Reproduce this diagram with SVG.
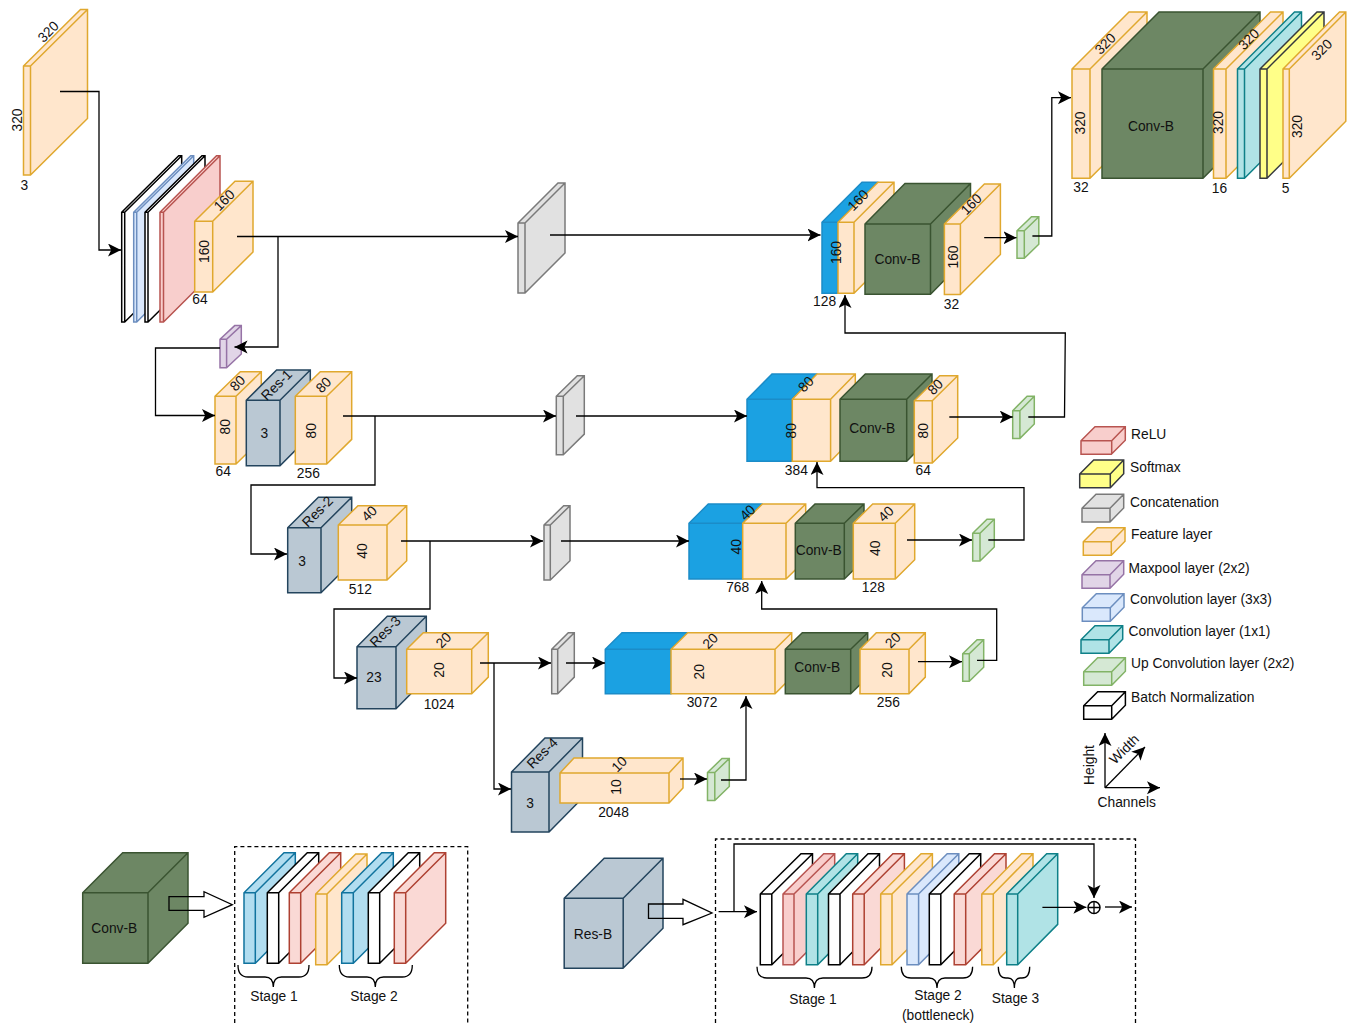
<svg xmlns="http://www.w3.org/2000/svg" width="1352" height="1023" viewBox="0 0 1352 1023">
<style>
text{font-family:"Liberation Sans",Arial,sans-serif;font-size:13.8px;fill:#111;text-anchor:middle;dominant-baseline:middle}
.l{text-anchor:start}
path{stroke-width:1.5;stroke-linejoin:miter}
.o{fill:#ffe6cc;stroke:#e0a82e}
.g{fill:#6d8764;stroke:#3a5431}
.r{fill:#bac8d3;stroke:#23445d}
.b{fill:#1ba1e2;stroke:#1b8cc8}
.red{fill:#f8cecc;stroke:#b85450}
.sal{fill:#fad9d5;stroke:#ae4132}
.c3{fill:#dae8fc;stroke:#6c8ebf}
.gr{fill:#e1e1e1;stroke:#7a7a7a}
.p{fill:#e1d5e7;stroke:#9673a6}
.ug{fill:#d5e8d4;stroke:#82b366}
.t{fill:#b0e3e6;stroke:#0e8088}
.y{fill:#ffff88;stroke:#36393d}
.w{fill:#fff;stroke:#000}
.sb{fill:#b1ddf0;stroke:#10739e}
.ln{fill:none;stroke:#000;stroke-width:1.3}
.ar{marker-end:url(#a)}
.da{fill:none;stroke:#000;stroke-width:1.3;stroke-dasharray:4 3}
</style>
<defs>
<marker id="a" markerUnits="userSpaceOnUse" markerWidth="14" markerHeight="14" refX="13" refY="6.5" orient="auto"><path d="M13 6.5L0 0L3.2 6.5L0 13Z" fill="#000" stroke="none"/></marker>
</defs>

<g id="input">
<path class="o" d="M23.5 66l57 -56.5h7v109l-57 56.5h-7zh7v109m0 -109l57 -56.5"/>
<text transform="rotate(-45 49 32.5)" x="49" y="32.5">320</text>
<text transform="rotate(-90 18.3 120)" x="18.3" y="120">320</text>
<text x="24.3" y="186.5">3</text>
</g>
<g id="stage0">
<path class="w" d="M121.7 212.3l57 -56.6h3v110l-57 56.3h-3zh3v110m0 -110l57 -56.6"/>
<path class="c3" d="M133.7 212.3l57 -56.6h3v110l-57 56.3h-3zh3v110m0 -110l57 -56.6"/>
<path class="w" d="M145 212.3l57 -56.6h3v110l-57 56.3h-3zh3v110m0 -110l57 -56.6"/>
<path class="red" d="M160 212.3l56.5 -56.6h3.5v110l-56.5 56.3h-3.5zh3.5v110m0 -110l56.5 -56.6"/>
<path class="o" d="M194.7 221.3l40.3 -40h18v70.7l-40.3 40h-18zh18v70.7m0 -70.7l40.3 -40"/>
<text transform="rotate(-45 225 201)" x="225" y="201">160</text>
<text transform="rotate(-90 205 251.5)" x="205" y="251.5">160</text>
<text x="200" y="300">64</text>
</g>
<g id="concat1">
<path class="gr" d="M518 223l40 -40h7v70l-40 40h-7zh7v70m0 -70l40 -40"/>
</g>
<g id="maxpool">
<path class="p" d="M220 339.3l14.7 -13.7h6.6v28.4l-14.7 13.7h-6.6zh6.6v28.4m0 -28.4l14.7 -13.7"/>
</g>
<g id="res1">
<path class="o" d="M215 396.3l25.3 -24.6h21v67.7l-25.3 24.6h-21zh21v67.7m0 -67.7l25.3 -24.6"/>
<text transform="rotate(-45 238.3 384)" x="238.3" y="384">80</text>
<text transform="rotate(-90 226.7 426.7)" x="226.7" y="426.7">80</text>
<path class="r" d="M246.3 400.3l30.3 -30.3h33.7v65.4l-30.3 30.3h-33.7zh33.7v65.4m0 -65.4l30.3 -30.3"/>
<text transform="rotate(-45 277.3 385.7)" x="277.3" y="385.7">Res-1</text>
<text x="264.3" y="434">3</text>
<path class="o" d="M295.3 396.3l25 -24.6h31.4v67.7l-25 24.6h-31.4zh31.4v67.7m0 -67.7l25 -24.6"/>
<text transform="rotate(-45 324.3 385.7)" x="324.3" y="385.7">80</text>
<text transform="rotate(-90 312.7 430.7)" x="312.7" y="430.7">80</text>
<text x="223.3" y="472.7">64</text>
<text x="308.3" y="474">256</text>
</g>
<g id="concat2">
<path class="gr" d="M556.3 396.3l21 -20.6h7v58.4l-21 20.6h-7zh7v58.4m0 -58.4l21 -20.6"/>
</g>
<g id="res2">
<path class="r" d="M287.7 527.7l30.7 -30.4h33.3v65l-30.7 30.4h-33.3zh33.3v65m0 -65l30.7 -30.4"/>
<text transform="rotate(-45 318.3 512.3)" x="318.3" y="512.3">Res-2</text>
<text x="302" y="562.3">3</text>
<path class="o" d="M338.3 525l19.7 -19.3h48.7v55l-19.7 19.3h-48.7zh48.7v55m0 -55l19.7 -19.3"/>
<text transform="rotate(-45 370 514.3)" x="370" y="514.3">40</text>
<text transform="rotate(-90 363.3 551)" x="363.3" y="551">40</text>
<text x="360.3" y="590">512</text>
</g>
<g id="concat3">
<path class="gr" d="M544 525l19.7 -19.3h6.3v55l-19.7 19.3h-6.3zh6.3v55m0 -55l19.7 -19.3"/>
</g>
<g id="res3">
<path class="r" d="M357 646.7l30.3 -30.4h39v62l-30.3 30.4h-39zh39v62m0 -62l30.3 -30.4"/>
<text transform="rotate(-45 386 632.3)" x="386" y="632.3">Res-3</text>
<text x="374" y="678.3">23</text>
<path class="o" d="M406.7 649.3l16.6 -16.6h65v44.4l-16.6 16.6h-65zh65v44.4m0 -44.4l16.6 -16.6"/>
<text transform="rotate(-45 444.3 641)" x="444.3" y="641">20</text>
<text transform="rotate(-90 440 670)" x="440" y="670">20</text>
<text x="439" y="705">1024</text>
</g>
<g id="concat4">
<path class="gr" d="M551.7 649.3l16.6 -16.6h6v44.4l-16.6 16.6h-6zh6v44.4m0 -44.4l16.6 -16.6"/>
</g>
<g id="res4">
<path class="r" d="M511.5 772l33.5 -34h37.5v60l-33.5 34h-37.5zh37.5v60m0 -60l33.5 -34"/>
<text transform="rotate(-45 543 754)" x="543" y="754">Res-4</text>
<text x="530" y="804">3</text>
<path class="o" d="M560 773l14 -15h109v30l-14 15h-109zh109v30m0 -30l14 -15"/>
<text transform="rotate(-45 620 765)" x="620" y="765">10</text>
<text transform="rotate(-90 617 787)" x="617" y="787">10</text>
<text x="613.5" y="813">2048</text>
</g>
<g id="up4">
<path class="ug" d="M707.5 772.5l14.5 -14h7.3v28l-14.5 14h-7.3zh7.3v28m0 -28l14.5 -14"/>
</g>
<g id="dec4">
<path class="b" d="M605.3 649.3l16.7 -16.6h65.7v44.4l-16.7 16.6h-65.7zh65.7v44.4m0 -44.4l16.7 -16.6"/>
<path class="o" d="M671 649.3l16.7 -16.6h104v44.4l-16.7 16.6h-104zh104v44.4m0 -44.4l16.7 -16.6"/>
<text transform="rotate(-45 711 641.7)" x="711" y="641.7">20</text>
<text transform="rotate(-90 700.7 671.7)" x="700.7" y="671.7">20</text>
<path class="g" d="M785.3 649.3l17 -16.6h65.4v44.4l-17 16.6h-65.4zh65.4v44.4m0 -44.4l17 -16.6"/>
<text x="817.3" y="668.7">Conv-B</text>
<path class="o" d="M860 649.3l16.3 -16.6h49v44.4l-16.3 16.6h-49zh49v44.4m0 -44.4l16.3 -16.6"/>
<text transform="rotate(-45 893.7 641)" x="893.7" y="641">20</text>
<text transform="rotate(-90 888.7 670)" x="888.7" y="670">20</text>
<text x="702" y="703.3">3072</text>
<text x="888.3" y="703.3">256</text>
</g>
<g id="up3">
<path class="ug" d="M962.7 653.7l14.4 -14h6.6v27.6l-14.4 14h-6.6zh6.6v27.6m0 -27.6l14.4 -14"/>
</g>
<g id="dec3">
<path class="b" d="M689 523.3l19.3 -19.3h53.7v55.7l-19.3 19.3h-53.7zh53.7v55.7m0 -55.7l19.3 -19.3"/>
<path class="o" d="M742.7 523.3l19.7 -19.3h43.3v55.7l-19.7 19.3h-43.3zh43.3v55.7m0 -55.7l19.7 -19.3"/>
<text transform="rotate(-45 748.3 513.3)" x="748.3" y="513.3">40</text>
<text transform="rotate(-90 737.3 546.7)" x="737.3" y="546.7">40</text>
<path class="g" d="M795.3 523.3l19.7 -19.3h49v55.7l-19.7 19.3h-49zh49v55.7m0 -55.7l19.7 -19.3"/>
<text x="818.7" y="551.3">Conv-B</text>
<path class="o" d="M853.3 523.3l19.4 -19.3h42v55.7l-19.4 19.3h-42zh42v55.7m0 -55.7l19.4 -19.3"/>
<text transform="rotate(-45 886.7 514.7)" x="886.7" y="514.7">40</text>
<text transform="rotate(-90 876.7 548.3)" x="876.7" y="548.3">40</text>
<text x="737.7" y="588.7">768</text>
<text x="873.3" y="588.7">128</text>
</g>
<g id="up2">
<path class="ug" d="M972.7 533.3l14.3 -14h7.3v27.7l-14.3 14h-7.3zh7.3v27.7m0 -27.7l14.3 -14"/>
</g>
<g id="dec2">
<path class="b" d="M747 399.3l25 -25.3h44.7v62l-25 25.3h-44.7zh44.7v62m0 -62l25 -25.3"/>
<path class="o" d="M792.3 399.3l24.7 -25.3h38.3v62l-24.7 25.3h-38.3zh38.3v62m0 -62l24.7 -25.3"/>
<text transform="rotate(-45 806.7 385)" x="806.7" y="385">80</text>
<text transform="rotate(-90 792.7 430.7)" x="792.7" y="430.7">80</text>
<path class="g" d="M840 399.3l25.3 -25.3h66.7v62l-25.3 25.3h-66.7zh66.7v62m0 -62l25.3 -25.3"/>
<text x="872.3" y="429.3">Conv-B</text>
<path class="o" d="M914.3 400.7l25.4 -25h18v62.3l-25.4 25h-18zh18v62.3m0 -62.3l25.4 -25"/>
<text transform="rotate(-45 936 387.7)" x="936" y="387.7">80</text>
<text transform="rotate(-90 924 430.7)" x="924" y="430.7">80</text>
<text x="796.3" y="471">384</text>
<text x="923.3" y="471">64</text>
</g>
<g id="up1">
<path class="ug" d="M1012.7 410.7l14.4 -14.4h7.2v27.7l-14.4 14.4h-7.2zh7.2v27.7m0 -27.7l14.4 -14.4"/>
</g>
<g id="dec1">
<path class="b" d="M822 222.3l40 -40h15.7v71l-40 40h-15.7zh15.7v71m0 -71l40 -40"/>
<path class="o" d="M838 222.3l40 -40h16v71l-40 40h-16zh16v71m0 -71l40 -40"/>
<text transform="rotate(-45 858.8 201)" x="858.8" y="201">160</text>
<text transform="rotate(-90 837 252.5)" x="837" y="252.5">160</text>
<path class="g" d="M865 224l40 -40.5h65.5v70.3l-40 40.5h-65.5zh65.5v70.3m0 -70.3l40 -40.5"/>
<text x="897.5" y="260">Conv-B</text>
<path class="o" d="M944.4 224l40 -40h16v70.5l-40 40h-16zh16v70.5m0 -70.5l40 -40"/>
<text transform="rotate(-45 972 205)" x="972" y="205">160</text>
<text transform="rotate(-90 954 257)" x="954" y="257">160</text>
<text x="824.6" y="302.7">128</text>
<text x="951.4" y="305">32</text>
</g>
<g id="up0">
<path class="ug" d="M1017 230.7l14.5 -14h7.3v27.6l-14.5 14h-7.3zh7.3v27.6m0 -27.6l14.5 -14"/>
</g>
<g id="output">
<path class="o" d="M1072 69l57 -57h18v109.3l-57 57h-18zh18v109.3m0 -109.3l57 -57"/>
<text transform="rotate(-45 1106 44.5)" x="1106" y="44.5">320</text>
<text transform="rotate(-90 1081.5 123)" x="1081.5" y="123">320</text>
<path class="g" d="M1102 69l57 -57h101v109.3l-57 57h-101zh101v109.3m0 -109.3l57 -57"/>
<text x="1151" y="127">Conv-B</text>
<path class="o" d="M1213.5 69l57 -57h12.5v109.3l-57 57h-12.5zh12.5v109.3m0 -109.3l57 -57"/>
<text transform="rotate(-45 1249.5 40)" x="1249.5" y="40">320</text>
<text transform="rotate(-90 1219.5 122.5)" x="1219.5" y="122.5">320</text>
<path class="t" d="M1237.5 69l57 -57h7v109.3l-57 57h-7zh7v109.3m0 -109.3l57 -57"/>
<path class="y" d="M1260 69l57 -57h7v109.3l-57 57h-7zh7v109.3m0 -109.3l57 -57"/>
<path class="o" d="M1283 69l56.5 -57h6.3v109.3l-56.5 57h-6.3zh6.3v109.3m0 -109.3l56.5 -57"/>
<text transform="rotate(-45 1322.5 50.5)" x="1322.5" y="50.5">320</text>
<text transform="rotate(-90 1298 126.5)" x="1298" y="126.5">320</text>
<text x="1081" y="188.3">32</text>
<text x="1219.5" y="189.3">16</text>
<text x="1285.5" y="189.3">5</text>
</g>

<g id="legend">
<path class="red" d="M1081 440.7l14 -14h30.3v13.6l-14 14h-30.3zh30.7v13.6m0 -13.6l13.6 -14"/><text class="l" x="1131" y="435">ReLU</text>
<path class="y" d="M1079.7 474l14 -14h30v13.7l-13.4 14h-30.6zh30.6v13.7m0 -13.7l13.4 -14"/><text class="l" x="1130" y="468">Softmax</text>
<path class="gr" d="M1082 508.3l14 -14h27.7v13.7l-13.7 14h-28zh28v13.7m0 -13.7l13.7 -14"/><text class="l" x="1130" y="503">Concatenation</text>
<path class="o" d="M1083.3 541.7l14 -14h27.7v13.6l-13.7 14h-28zh28v13.6m0 -13.6l13.7 -14"/><text class="l" x="1131" y="535">Feature layer</text>
<path class="p" d="M1082 574.7l14 -14h27.7v13.6l-13.7 14h-28zh28v13.6m0 -13.6l13.7 -14"/><text class="l" x="1128.5" y="569">Maxpool layer (2x2)</text>
<path class="c3" d="M1082.3 607.7l14 -14h27.7v13.6l-13.7 14h-28zh28v13.6m0 -13.6l13.7 -14"/><text class="l" x="1130" y="600">Convolution layer (3x3)</text>
<path class="t" d="M1081 639.7l14 -14h27.7v13.6l-13.7 14h-28zh28v13.6m0 -13.6l13.7 -14"/><text class="l" x="1128.5" y="632">Convolution layer (1x1)</text>
<path class="ug" d="M1083.7 671.7l14 -14h27.7v13.6l-13.7 14h-28zh28v13.6m0 -13.6l13.7 -14"/><text class="l" x="1131" y="664">Up Convolution layer (2x2)</text>
<path class="w" d="M1083.7 705.7l14 -14h27.7v13.6l-13.7 14h-28zh28v13.6m0 -13.6l13.7 -14"/><text class="l" x="1131" y="698">Batch Normalization</text>
</g>
<g id="axes">
<path class="ln ar" d="M1105 787.7V733"/>
<path class="ln ar" d="M1105 787.7H1160"/>
<path class="ln ar" d="M1105 787.7L1145 747"/>
<text transform="rotate(-90 1090.7 765)" x="1090.7" y="765">Height</text>
<text transform="rotate(-45 1125 750)" x="1125" y="750">Width</text>
<text x="1126.7" y="803">Channels</text>
</g>

<g id="conv-b">
<path class="g" d="M82.7 892.7l40 -40h65.3v70.6l-40 40h-65.3zh65.3v70.6m0 -70.6l40 -40"/>
<text x="114.3" y="929.3">Conv-B</text>
</g>
<g id="conv-b-detail">
<path class="sb" d="M244 892.7l40 -40h11.3v70.6l-40 40h-11.3zh11.3v70.6m0 -70.6l40 -40"/>
<path class="w" d="M267.3 892.7l40 -40h11.4v70.6l-40 40h-11.4zh11.4v70.6m0 -70.6l40 -40"/>
<path class="sal" d="M289.3 892.7l40 -40h11.4v70.6l-40 40h-11.4zh11.4v70.6m0 -70.6l40 -40"/>
<path class="o" d="M315.7 894l40 -40h11.3v70.7l-40 40h-11.3zh11.3v70.7m0 -70.7l40 -40"/>
<path class="sb" d="M341.7 892.7l40 -40h11.6v70.6l-40 40h-11.6zh11.6v70.6m0 -70.6l40 -40"/>
<path class="w" d="M368.3 892.7l40 -40h11.4v70.6l-40 40h-11.4zh11.4v70.6m0 -70.6l40 -40"/>
<path class="sal" d="M394.3 892.7l40 -40h11.4v70.6l-40 40h-11.4zh11.4v70.6m0 -70.6l40 -40"/>
<path class="ln" d="M238 965Q238 977 248 977H265Q273.3 977 273.3 987Q273.3 977 281.5 977H299Q309 977 309 965"/>
<path class="ln" d="M339.3 965Q339.3 977 349.3 977H367Q375.3 977 375.3 987Q375.3 977 383.5 977H402.3Q412.3 977 412.3 965"/>
<text x="274" y="997.7">Stage 1</text>
<text x="374" y="997.7">Stage 2</text>
</g>
<g id="res-b">
<path class="r" d="M564.2 898.3l40 -40h58.8v70l-40 40h-58.8zh59v70m0 -70l39.8 -40"/>
<text x="593" y="935.7">Res-B</text>
</g>
<g id="res-b-detail">
<path class="w" d="M760.3 894l40.7 -40.3h11.5v70.7l-40.7 40.3h-11.5zh11.5v70.7m0 -70.7l40.7 -40.3"/>
<path class="red" d="M783 894l40.7 -40.3h11v70.7l-40.7 40.3h-11zh11v70.7m0 -70.7l40.7 -40.3"/>
<path class="t" d="M806.3 894l40 -40.3h11.4v70.7l-40 40.3h-11.4zh11.4v70.7m0 -70.7l40 -40.3"/>
<path class="w" d="M828.5 894l39.5 -40.3h11.5v70.7l-39.5 40.3h-11.5zh11.5v70.7m0 -70.7l39.5 -40.3"/>
<path class="sal" d="M852.7 894l40.2 -40.3h11.5v70.7l-40.2 40.3h-11.5zh11.5v70.7m0 -70.7l40.2 -40.3"/>
<path class="o" d="M880.7 894l40.4 -40.3h11.3v70.7l-40.4 40.3h-11.3zh11.3v70.7m0 -70.7l40.4 -40.3"/>
<path class="c3" d="M907 894l40.2 -40.3h11.6v70.7l-40.2 40.3h-11.6zh11.6v70.7m0 -70.7l40.2 -40.3"/>
<path class="w" d="M929.3 894l39.9 -40.3h11.5v70.7l-39.9 40.3h-11.5zh11.5v70.7m0 -70.7l39.9 -40.3"/>
<path class="sal" d="M954.2 894l40.3 -40.3h11.5v70.7l-40.3 40.3h-11.5zh11.5v70.7m0 -70.7l40.3 -40.3"/>
<path class="o" d="M981.8 894l39.7 -40.3h11.5v70.7l-39.7 40.3h-11.5zh11.5v70.7m0 -70.7l39.7 -40.3"/>
<path class="t" d="M1006.7 894l40 -40.3h11v70.7l-40 40.3h-11zh11v70.7m0 -70.7l40 -40.3"/>
<path class="ln" d="M757 966.7Q757 978 767 978H806Q814.4 978 814.4 988Q814.4 978 823 978H862Q872 978 872 966.7"/>
<path class="ln" d="M901.3 966.7Q901.3 978 911 978H929Q937 978 937 988Q937 978 945 978H963Q972.6 978 972.6 966.7"/>
<path class="ln" d="M998.3 966.7Q998.3 978 1006 978H1008Q1014.4 978 1014.4 988Q1014.4 978 1020 978H1022Q1029.7 978 1029.7 966.7"/>
<text x="813" y="1000">Stage 1</text>
<text x="938" y="996">Stage 2</text>
<text x="938" y="1016">(bottleneck)</text>
<text x="1015.5" y="999">Stage 3</text>
</g>
<g id="sum">
<circle cx="1094" cy="907.5" r="6" fill="#fff" stroke="#000" stroke-width="1.5"/>
<path class="ln" d="M1088 907.5H1100M1094 901.5V913.5"/>
</g>

<g id="connectors">
<path class="ln ar" d="M60 91.5H99V250H121"/>
<path class="ln ar" d="M237 236.5H518"/>
<path class="ln ar" d="M278 236.5V347H234.5"/>
<path class="ln ar" d="M220 348H155.5V415.5H215"/>
<path class="ln ar" d="M550 235H820.5"/>
<path class="ln ar" d="M343 416H556"/>
<path class="ln ar" d="M375 416V485H251V554H287"/>
<path class="ln ar" d="M576 416H747"/>
<path class="ln ar" d="M401 541H543"/>
<path class="ln ar" d="M430 541V609H334V678H357"/>
<path class="ln ar" d="M561 541H689"/>
<path class="ln ar" d="M480 663H551"/>
<path class="ln ar" d="M494 663V789H511"/>
<path class="ln ar" d="M566 663H605"/>
<path class="ln ar" d="M680 779H707"/>
<path class="ln ar" d="M721 780H746V696"/>
<path class="ln ar" d="M918 661.7H962"/>
<path class="ln ar" d="M977 660.3H996.7V609H761.7V581"/>
<path class="ln ar" d="M907 540H972"/>
<path class="ln ar" d="M988.3 540H1024V487.7H817V462"/>
<path class="ln ar" d="M949.3 417H1012.7"/>
<path class="ln ar" d="M1028.3 417H1064.5L1065.3 333H845V295"/>
<path class="ln ar" d="M984.2 237.7H1016.5"/>
<path class="ln ar" d="M1032.4 236H1051.8V97.7H1071"/>
<path class="ln" d="M169 896.7H204V891.7L232.3 904.7L204 917.3V910.3H169Z"/>
<path class="ln" d="M648.5 904H683V899.3L712 913L683 924.7V918.3H648.5Z"/>
<path class="ln ar" d="M718.6 911.7H757"/>
<path class="ln ar" d="M734 911.7V844H1094V898"/>
<path class="ln ar" d="M1042.4 907.3H1086.4"/>
<path class="ln ar" d="M1105 907H1132"/>
<path class="da" d="M234.7 1023V846.7H467.7V1023"/>
<path class="da" d="M715.5 1023V839H1135.5V1023"/>
</g>
</svg>
